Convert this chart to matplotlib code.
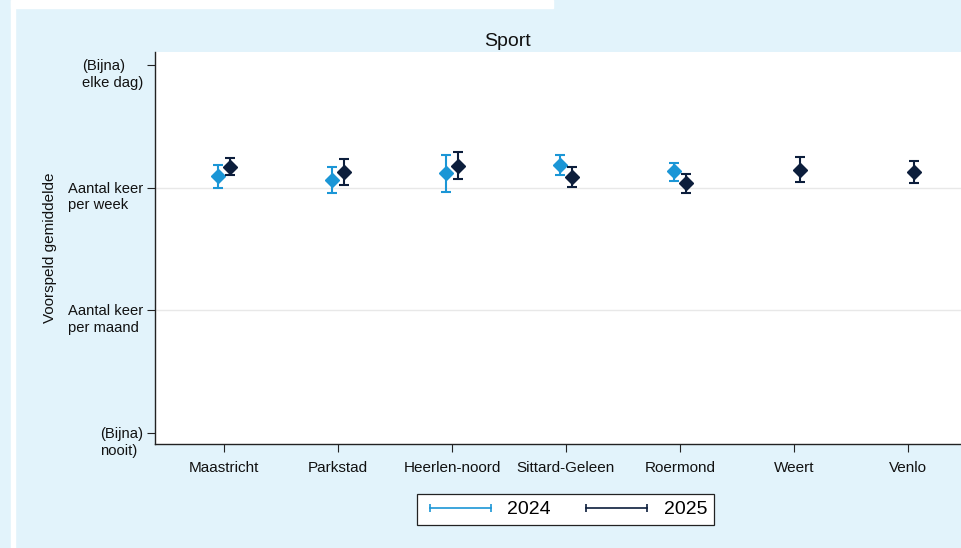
import matplotlib.pyplot as plt
from matplotlib.lines import Line2D
from matplotlib.patches import Rectangle
import numpy as np

plt.rcParams['font.family'] = ['Liberation Sans', 'DejaVu Sans']

# Regio's en voorspelde gemiddelden (schaal 1 = (bijna) nooit ... 4 = (bijna) elke dag)
regios = ['Maastricht', 'Parkstad', 'Heerlen-noord', 'Sittard-Geleen', 'Roermond', 'Weert', 'Venlo']
y_labels = ['(Bijna)\nnooit)', 'Aantal keer\nper maand', 'Aantal keer\nper week', '(Bijna)\nelke dag)']
y_ticks = [1, 2, 3, 4]

# 2024 (alleen de eerste vijf regio's)
m24 = [3.092, 3.063, 3.120, 3.185, 3.133]
lo24 = [3.000, 2.954, 2.965, 3.103, 3.057]
hi24 = [3.185, 3.171, 3.268, 3.263, 3.203]

# 2025
m25 = [3.171, 3.130, 3.179, 3.089, 3.038, 3.146, 3.130]
lo25 = [3.100, 3.022, 3.067, 3.006, 2.959, 3.043, 3.035]
hi25 = [3.241, 3.236, 3.287, 3.168, 3.114, 3.254, 3.220]

c24 = '#1b96d6'
c25 = '#0c1e3c'
bg = '#e2f3fb'

fig = plt.figure(figsize=(9.62, 5.48), dpi=100, facecolor=bg)
# witte randjes links en boven
fig.patches.append(Rectangle((11/962, 0), 4/962, 1, transform=fig.transFigure, color='white', zorder=0))
fig.patches.append(Rectangle((11/962, 1-8/548), 542/962, 8/548, transform=fig.transFigure, color='white', zorder=0))

ax = fig.add_axes([155/962, (548-444)/548, (962-155)/962, (444-52)/548])
ax.set_facecolor('white')

x = np.arange(1, len(regios)+1)
x24 = x[:len(m24)] - 0.05
x25 = x + 0.05

m24 = np.array(m24); m25 = np.array(m25)
err24 = [m24 - np.array(lo24), np.array(hi24) - m24]
err25 = [m25 - np.array(lo25), np.array(hi25) - m25]

ax.errorbar(x24, m24, yerr=err24, fmt='D', color=c24, ms=7.5, elinewidth=1.5,
            capsize=3.6, capthick=1.5, zorder=3)
ax.errorbar(x25, m25, yerr=err25, fmt='D', color=c25, ms=7.5, elinewidth=1.5,
            capsize=3.6, capthick=1.5, zorder=4)

for v in [2, 3]:
    ax.axhline(v, color='#e8e8e8', lw=1, zorder=1)

ax.set_xlim(0.395, 7.474)
ax.set_ylim(0.910, 4.106)

for s in ['top', 'right']:
    ax.spines[s].set_visible(False)
for s in ['left', 'bottom']:
    ax.spines[s].set_color('#222222')
    ax.spines[s].set_linewidth(1.0)

ax.set_xticks(x)
ax.set_xticklabels(regios, fontsize=11, color='#111111')
ax.tick_params(axis='x', length=6, width=0.8, pad=6, color='#222222')

ax.set_yticks(y_ticks)
ax.set_yticklabels([])
ax.tick_params(axis='y', length=6, width=0.8, color='#222222')
for v, lbl in zip(y_ticks, y_labels):
    ax.annotate(lbl, xy=(0, v), xycoords=('axes fraction', 'data'), xytext=(-12, 6),
                textcoords='offset pixels', ha='right', va='top', multialignment='left',
                fontsize=10.6, color='#111111', linespacing=1.25)

ax.set_ylabel('Voorspeld gemiddelde', fontsize=11, color='#111111')
ax.yaxis.set_label_coords(-0.122, 0.5)

fig.text(508/962, 1-41/548, 'Sport', ha='center', va='center', fontsize=14, color='#111111')

handles = [Line2D([], [], color=c24, marker='|', ms=6, mew=1.2, lw=1.2),
           Line2D([], [], color=c25, marker='|', ms=6, mew=1.2, lw=1.2)]
leg = fig.legend(handles, ['2024', '2025'], loc='center', ncol=2, numpoints=2,
                 bbox_to_anchor=(565.5/962, (548-509.5)/548), fontsize=14,
                 frameon=True, fancybox=False, edgecolor='#222222', framealpha=1,
                 handlelength=3.75, handletextpad=0.55, columnspacing=1.5,
                 borderpad=0.35, borderaxespad=0)
leg.get_frame().set_linewidth(0.9)

fig.savefig('out.png', dpi=100, facecolor=bg)
